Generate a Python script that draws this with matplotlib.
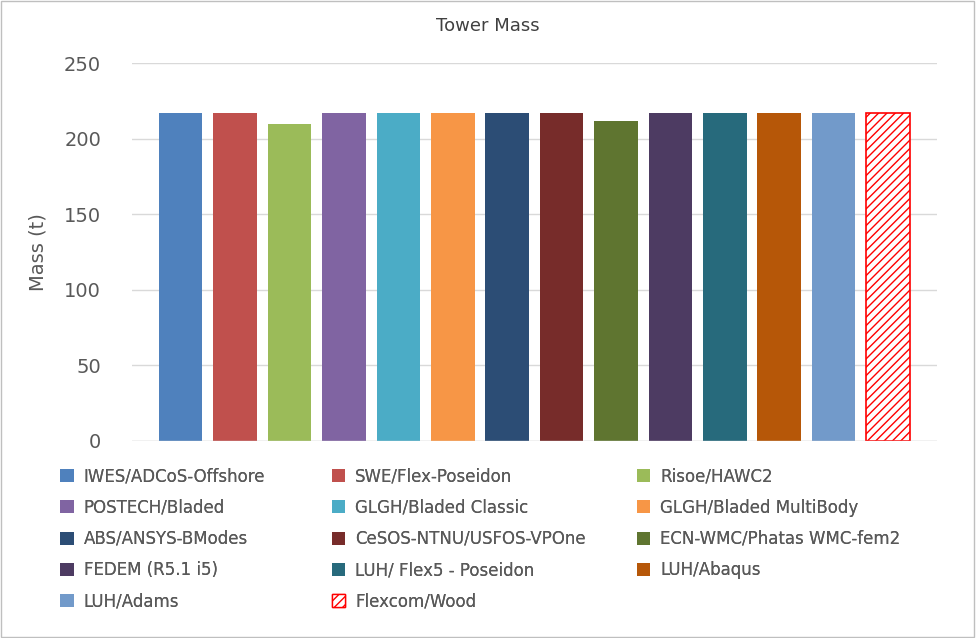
import matplotlib
matplotlib.use("Agg")
import matplotlib.pyplot as plt
from matplotlib.patches import Patch, Rectangle

# data
codes = ["IWES/ADCoS-Offshore", "SWE/Flex-Poseidon", "Risoe/HAWC2",
         "POSTECH/Bladed", "GLGH/Bladed Classic", "GLGH/Bladed MultiBody",
         "ABS/ANSYS-BModes", "CeSOS-NTNU/USFOS-VPOne", "ECN-WMC/Phatas WMC-fem2",
         "FEDEM (R5.1 i5)", "LUH/ Flex5 - Poseidon", "LUH/Abaqus",
         "LUH/Adams", "Flexcom/Wood"]
mass = [217, 217, 210, 217, 217, 217, 217, 217, 212, 217, 217, 217, 217, 217]
colors = ["#4F81BD", "#C0504D", "#9BBB59", "#8064A2", "#4BACC6", "#F79646",
          "#2C4D75", "#772C2A", "#5F7530", "#4D3B62", "#276A7C", "#B65708",
          "#729ACA", "white"]

fig = plt.figure(figsize=(9.76, 6.38), dpi=100)
ax = fig.add_axes([0.135, 0.309, 0.825, 0.592])
txt = "#595959"

handles = []
for i, (name, m, c) in enumerate(zip(codes, mass, colors)):
    if name == "Flexcom/Wood":
        ax.bar(i, m, width=0.8, color="white", edgecolor="#FF0000",
               hatch="////", linewidth=1.2, zorder=3)
        handles.append(Patch(facecolor="white", edgecolor="#FF0000", hatch="////", label=name))
    else:
        ax.bar(i, m, width=0.8, color=c, zorder=3)
        handles.append(Patch(facecolor=c, label=name))

ax.set_xlim(-0.9, len(codes) - 0.1)
ax.set_ylim(0, 250)
ax.set_yticks(range(0, 251, 50))
ax.set_xticks([])
ax.yaxis.grid(True, color="#D9D9D9", lw=1, zorder=0)
for s in ax.spines.values():
    s.set_visible(False)
ax.axhline(0, color="#D9D9D9", lw=1, zorder=4)
ax.tick_params(axis="y", length=0, labelsize=14, labelcolor=txt, pad=22)
ax.set_ylabel("Mass (t)", fontsize=14, color=txt, labelpad=12)
fig.text(0.5, 0.96, "Tower Mass", ha="center", va="center", fontsize=13, color="#404040")

# legend row-major in 3 columns, one legend per column
col_x = [0.055, 0.333, 0.646]
for k in range(3):
    idx = list(range(k, len(codes), 3))
    leg = fig.legend([handles[i] for i in idx], [codes[i] for i in idx],
                     loc="upper left", bbox_to_anchor=(col_x[k], 0.278),
                     frameon=False, fontsize=12, labelcolor=txt,
                     handlelength=0.8, handleheight=0.8, handletextpad=0.6,
                     labelspacing=0.8, borderaxespad=0)
    fig.add_artist(leg)

fig.patches.append(Rectangle((0.001, 0.001), 0.997, 0.997, transform=fig.transFigure,
                             fill=False, edgecolor="#BFBFBF", lw=1))
fig.savefig("out.png", dpi=100)
